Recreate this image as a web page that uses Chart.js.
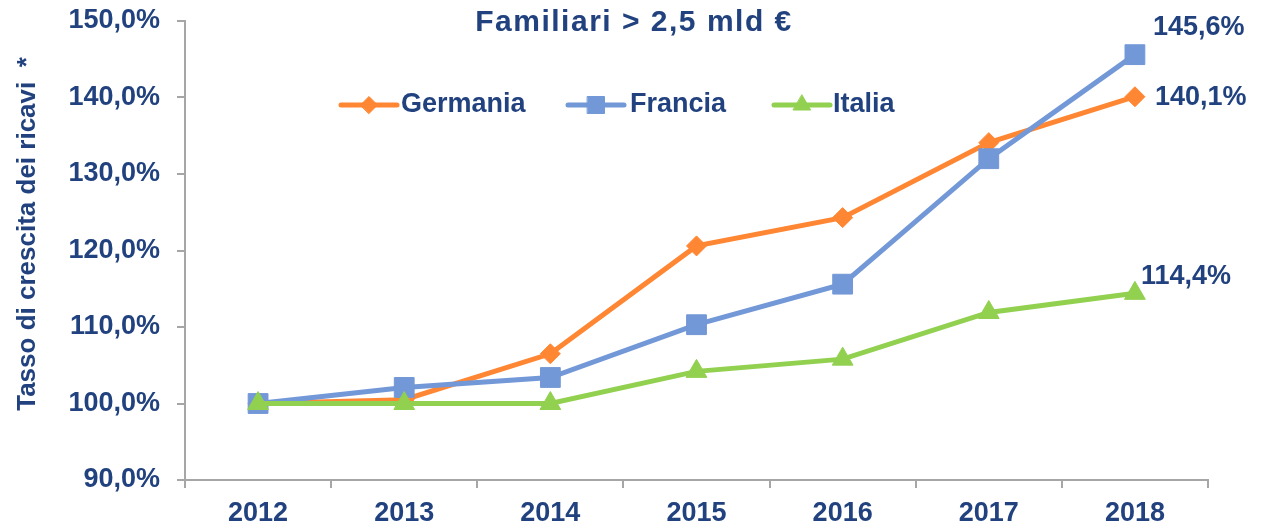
<!DOCTYPE html>
<html><head><meta charset="utf-8">
<script src="https://cdn.jsdelivr.net/npm/chart.js@4/dist/chart.umd.min.js"></script>
<style>html,body{margin:0;padding:0;background:#fff;overflow:hidden}</style>
</head><body>
<canvas id="c" width="1263" height="529"></canvas>
<script>
const categories = ['2012', '2013', '2014', '2015', '2016', '2017', '2018'];
const germania = [100.0, 100.5, 106.5, 120.6, 124.3, 134.1, 140.1];
const francia = [100.0, 102.1, 103.4, 110.3, 115.6, 132.0, 145.6];
const italia = [100.0, 100.0, 100.0, 104.2, 105.8, 111.9, 114.4];
const seriesNames = ['Germania', 'Francia', 'Italia'];
const yTicks = [90, 100, 110, 120, 130, 140, 150];
const chartTitle = 'Familiari > 2,5 mld €';
const yAxisTitle = 'Tasso di crescita dei ricavi  *';

const TEXT = '#21427F';
const AXIS = '#A6A6A6';
const FONT = '"Liberation Sans", Arial, sans-serif';
const fmt = v => v.toFixed(1).replace('.', ',') + '%';

const styles = [
  { color: '#FF8633', pointStyle: 'rectRot', radius: 10, legendRadius: 8.5, order: 3 },
  { color: '#7398D7', pointStyle: 'rect', radius: 14, legendRadius: 12, order: 2 },
  { color: '#92D050', pointStyle: 'triangle', radius: 12, legendRadius: 10, order: 1 }
];
const seriesData = [germania, francia, italia];

const legendLayout = [
  { x1: 341, x2: 397, tx: 401 },
  { x1: 568, x2: 624, tx: 630 },
  { x1: 774, x2: 830, tx: 833 }
];
const labelOffsets = [
  { dx: 20, dy: 1 },
  { dx: 18, dy: -27 },
  { dx: 6, dy: -17 }
];

const overlay = {
  id: 'overlay',
  afterDatasetsDraw(chart) {
    const ctx = chart.ctx;
    ctx.save();
    ctx.fillStyle = TEXT;
    ctx.font = 'bold 30px ' + FONT;
    ctx.textAlign = 'center';
    ctx.textBaseline = 'middle';
    try { ctx.letterSpacing = '1.5px'; } catch (e) {}
    ctx.fillText(chartTitle, 634, 23);
    try { ctx.letterSpacing = '0px'; } catch (e) {}
    ctx.save();
    ctx.translate(28, 234);
    ctx.rotate(-Math.PI / 2);
    ctx.font = 'bold 26px ' + FONT;
    ctx.textAlign = 'center';
    ctx.textBaseline = 'middle';
    ctx.fillText(yAxisTitle, 0, 0);
    ctx.restore();
    const ly = 105;
    chart.data.datasets.forEach((ds, i) => {
      const L = legendLayout[i];
      const st = styles[i];
      ctx.strokeStyle = st.color;
      ctx.lineWidth = 5;
      ctx.lineCap = 'round';
      ctx.beginPath();
      ctx.moveTo(L.x1, ly);
      ctx.lineTo(L.x2, ly);
      ctx.stroke();
      ctx.fillStyle = st.color;
      ctx.strokeStyle = st.color;
      ctx.lineWidth = 1;
      Chart.helpers.drawPoint(ctx, { pointStyle: st.pointStyle, radius: st.legendRadius, borderWidth: 1, rotation: 0 }, (L.x1 + L.x2) / 2, ly);
      ctx.fillStyle = TEXT;
      ctx.font = 'bold 27px ' + FONT;
      ctx.textAlign = 'left';
      ctx.textBaseline = 'middle';
      ctx.fillText(ds.label, L.tx, ly);
    });
    chart.data.datasets.forEach((ds, i) => {
      const meta = chart.getDatasetMeta(i);
      const last = meta.data[meta.data.length - 1];
      const v = ds.data[ds.data.length - 1];
      ctx.fillStyle = TEXT;
      ctx.font = 'bold 27px ' + FONT;
      ctx.textAlign = 'left';
      ctx.textBaseline = 'middle';
      ctx.fillText(fmt(v), last.x + labelOffsets[i].dx, last.y + labelOffsets[i].dy);
    });
    ctx.restore();
  }
};

new Chart(document.getElementById('c'), {
  type: 'line',
  data: {
    labels: categories,
    datasets: seriesNames.map((name, i) => ({
      label: name,
      data: seriesData[i],
      borderColor: styles[i].color,
      backgroundColor: styles[i].color,
      pointBackgroundColor: styles[i].color,
      pointBorderColor: styles[i].color,
      pointBorderWidth: 1,
      pointStyle: styles[i].pointStyle,
      pointRadius: styles[i].radius,
      pointHoverRadius: styles[i].radius,
      borderWidth: 5,
      tension: 0,
      fill: false,
      order: styles[i].order
    }))
  },
  options: {
    responsive: false,
    animation: false,
    events: [],
    layout: { padding: { top: 21, right: 55, bottom: 0, left: 0 } },
    plugins: { legend: { display: false }, title: { display: false }, tooltip: { enabled: false } },
    scales: {
      x: {
        offset: true,
        grid: { offset: true, drawOnChartArea: false, drawTicks: true, tickLength: 8, color: AXIS, lineWidth: 2 },
        border: { display: true, color: AXIS, width: 2 },
        ticks: { color: TEXT, font: { family: FONT, size: 27, weight: 'bold' }, padding: 9, maxRotation: 0 },
        afterFit: s => { s.height = 49; s.paddingLeft = 0; s.paddingRight = 0; }
      },
      y: {
        min: yTicks[0],
        max: yTicks[yTicks.length - 1],
        afterBuildTicks: s => { s.ticks = yTicks.map(v => ({ value: v })); },
        grid: { drawOnChartArea: false, drawTicks: true, tickLength: 8, color: AXIS, lineWidth: 2 },
        border: { display: true, color: AXIS, width: 2 },
        ticks: { color: TEXT, font: { family: FONT, size: 27, weight: 'bold' }, padding: 17, callback: v => fmt(v) },
        afterFit: s => { s.width = 185; s.paddingTop = 0; s.paddingBottom = 0; }
      }
    }
  },
  plugins: [overlay]
});
</script>
</body></html>
